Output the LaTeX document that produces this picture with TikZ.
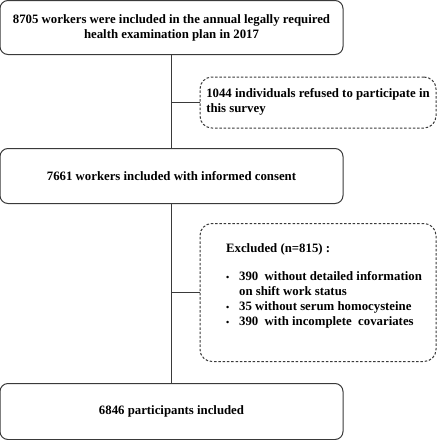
\documentclass[tikz,border=0pt]{standalone}
\usepackage{fontspec}
\setmainfont{Liberation Serif}
\usepackage{xcolor}
\usepackage{tikz}
\usetikzlibrary{arrows.meta}
\usetikzlibrary{shapes,arrows}
\definecolor{edge}{HTML}{3A3A3A}
\tikzstyle{mainbox} = [draw=edge, line width=1pt, rounded corners=8pt, minimum width=343pt, align=center, inner sep=0pt]
\tikzstyle{dropbox} = [draw=edge, line width=1pt, dashed, dash pattern=on 2.5pt off 1.8pt, rounded corners=12pt, minimum width=236pt, align=left, inner sep=0pt]
\tikzstyle{link} = [draw=edge, line width=1pt]
\newcommand{\bul}{\hspace*{12pt}\makebox[13pt][l]{\small\textbullet}}

\begin{document}
\begin{tikzpicture}[
            x=1pt, y=-1pt,
            font=\fontsize{12.8}{15}\selectfont\bfseries
        ]
            \useasboundingbox (0,0) rectangle (437,440);

            \node[mainbox, minimum height=54pt] (total) at (171.5,27.5)
                {8705 workers were included in the annual legally required\\health examination plan in 2017};
            \node[dropbox, minimum height=51pt] (refused) at (318,102.5)
                {1044 individuals refused to participate in\\this survey\rule[-4pt]{0pt}{4pt}};
            \node[dropbox, minimum height=138pt] (excluded) at (318,292.5)
                {\hspace*{12pt}Excluded (n=815) :\\[13pt]
                \bul 390\ \ without detailed information\\
                \hspace*{25pt}on shift work status\\
                \bul 35 without serum homocysteine\\
                \bul 390\ \ with incomplete\ \ covariates\rule[-16pt]{0pt}{16pt}};
            \node[mainbox, minimum height=55pt] (consent) at (171.5,176)
                {7661 workers included with informed consent};
            \node[mainbox, minimum height=56pt] (final) at (171.5,411.5)
                {6846 participants included};

            \draw[link] (total.south) -- (consent.north);
            \draw[link] (consent.south) -- (final.north);
            \draw[link] (total.south |- refused.west) -- (refused.west);
            \draw[link] (consent.south |- excluded.west) -- (excluded.west);
        \end{tikzpicture}
\end{document}
